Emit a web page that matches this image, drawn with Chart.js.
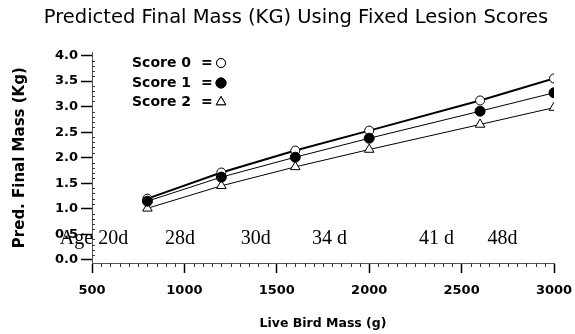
<!DOCTYPE html>
<html><head><meta charset="utf-8">
<script src="https://cdn.jsdelivr.net/npm/chart.js@4/dist/chart.umd.min.js"></script>
<style>html,body{margin:0;padding:0;background:#fff;overflow:hidden;} #wrap{width:575px;height:334px;}</style>
</head><body><div id="wrap"><canvas id="c" width="575" height="334"></canvas></div>
<script>
// ---- data ----
const liveMass = [800, 1200, 1600, 2000, 2600, 3000];
const score0 = [1.20, 1.71, 2.14, 2.53, 3.12, 3.55];
const score1 = [1.15, 1.62, 2.01, 2.38, 2.91, 3.27];
const score2 = [1.01, 1.45, 1.82, 2.16, 2.65, 2.98];
const seriesNames = ['Score 0', 'Score 1', 'Score 2'];
const yTicks = [0, 0.5, 1, 1.5, 2, 2.5, 3, 3.5, 4];
const xTicks = [500, 1000, 1500, 2000, 2500, 3000];
const ageLabels = ['Age 20d', '28d', '30d', '34 d', '41 d', '48d'];
const ageAt = [326, 895, 1305, 1690, 2270, 2640];
const ageY = 0.32;

const pts = arr => liveMass.map((x, i) => ({x: x, y: arr[i]}));

const styles = [
  {borderWidth: 2, pointStyle: 'circle', pointRadius: 4.5, pointBackgroundColor: '#fff', order: 1},
  {borderWidth: 1, pointStyle: 'circle', pointRadius: 5, pointBackgroundColor: '#000', order: 0},
  {borderWidth: 1, pointStyle: 'triangle', pointRadius: 5.5, pointBackgroundColor: '#fff', order: 2}
];
const seriesData = [score0, score1, score2];

const datasets = seriesNames.map((n, i) => Object.assign({
  label: n,
  data: pts(seriesData[i]),
  borderColor: '#000',
  pointBorderColor: '#000',
  pointBorderWidth: 1,
  showLine: true,
  tension: 0
}, styles[i]));

const SANS = 'DejaVu Sans';

const extras = {
  id: 'extras',
  afterLayout(chart) {
    // shift the title's box so it is centred like the reference
    if (chart.titleBlock) { chart.titleBlock.left = 38; chart.titleBlock.right = 554; }
  },
  afterDraw(chart) {
    const ctx = chart.ctx;
    const xs = chart.scales.x, ys = chart.scales.y;
    const ca = chart.chartArea;
    ctx.save();
    // minor ticks
    ctx.strokeStyle = '#333';
    ctx.lineWidth = 1;
    ctx.beginPath();
    for (let k = 1; k < 40; k++) {
      if (k % 5 === 0) continue;
      const y = Math.round(ys.getPixelForValue(k / 10)) + 0.5;
      ctx.moveTo(ca.left, y); ctx.lineTo(ca.left + 3, y);
    }
    for (let v = 550; v < 3000; v += 50) {
      if (v % 500 === 0) continue;
      const x = Math.round(xs.getPixelForValue(v)) + 0.5;
      ctx.moveTo(x, ca.bottom); ctx.lineTo(x, ca.bottom + 4);
    }
    ctx.stroke();
    // age annotations
    ctx.fillStyle = '#000';
    ctx.font = '20px "Liberation Serif"';
    ctx.textAlign = 'left';
    ctx.textBaseline = 'alphabetic';
    ageLabels.forEach((t, i) => {
      ctx.fillText(t, xs.getPixelForValue(ageAt[i]), ys.getPixelForValue(ageY));
    });
    // legend
    ctx.font = 'bold 14px "' + SANS + '"';
    ctx.textBaseline = 'middle';
    const ly = [63, 83, 102];
    chart.data.datasets.forEach((ds, i) => {
      ctx.fillStyle = '#000';
      ctx.fillText(ds.label, 132, ly[i]);
      ctx.fillText('=', 201, ly[i]);
      Chart.helpers.drawPoint(ctx, {
        pointStyle: ds.pointStyle, radius: ds.pointRadius, borderWidth: 1, rotation: 0
      }, 221, ly[i]);
      ctx.fillStyle = ds.pointBackgroundColor;
      ctx.strokeStyle = '#000';
      ctx.fill();
      ctx.stroke();
    });
    ctx.restore();
  }
};

new Chart(document.getElementById('c'), {
  type: 'line',
  data: {datasets: datasets},
  options: {
    responsive: false,
    animation: false,
    devicePixelRatio: 1,
    layout: {padding: {left: 0, right: 21, top: 0, bottom: 0}},
    plugins: {
      legend: {display: false},
      tooltip: {enabled: false},
      title: {
        display: true,
        text: 'Predicted Final Mass (KG) Using Fixed Lesion Scores',
        color: '#000',
        font: {family: SANS, size: 19.5, weight: 'normal'},
        padding: {top: 6, bottom: 23}
      }
    },
    scales: {
      x: {
        type: 'linear',
        min: 500, max: 3000,
        afterBuildTicks: s => { s.ticks = xTicks.map(v => ({value: v})); },
        afterFit: s => { s.height = 71; s.paddingRight = 0; s.paddingLeft = 0; },
        ticks: {
          color: '#000', padding: 10, maxRotation: 0, autoSkip: false,
          font: {family: SANS, size: 13, weight: 'bold'},
          callback: v => String(v)
        },
        grid: {drawOnChartArea: false, tickLength: 10, tickColor: '#000', tickWidth: 1.5},
        border: {color: '#555', width: 1},
        title: {
          display: true, text: 'Live Bird Mass (g)', color: '#000',
          font: {family: SANS, size: 12.5, weight: 'bold'},
          padding: {top: 0, bottom: 3}
        }
      },
      y: {
        type: 'linear',
        min: -0.06, max: 4.06,
        afterBuildTicks: s => { s.ticks = yTicks.map(v => ({value: v})); },
        afterFit: s => { s.width = 92; },
        ticks: {
          color: '#000', padding: 3, autoSkip: false,
          font: {family: SANS, size: 13, weight: 'bold'},
          callback: v => Number(v).toFixed(1)
        },
        grid: {drawOnChartArea: false, tickLength: 11, tickColor: '#000', tickWidth: 1.5},
        border: {color: '#555', width: 1},
        title: {
          display: true, text: 'Pred. Final Mass (Kg)', color: '#000',
          font: {family: SANS, size: 15, weight: 'bold'},
          padding: {top: 11, bottom: 0}
        }
      }
    }
  },
  plugins: [extras]
});
</script>
</body></html>
